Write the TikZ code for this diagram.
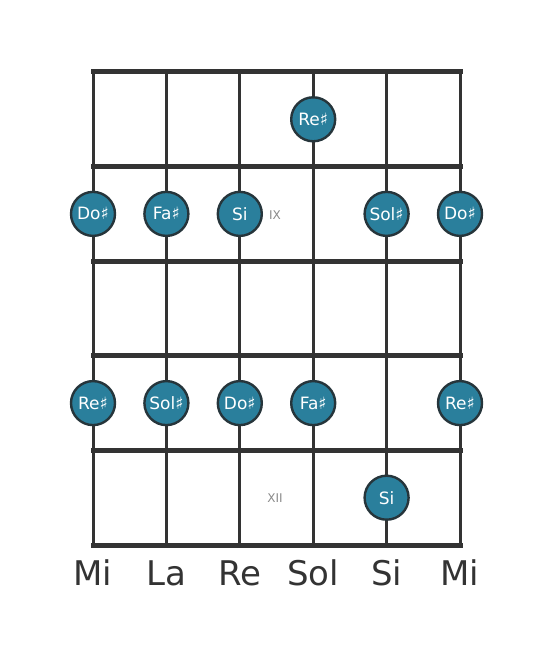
\documentclass[tikz,border=0pt]{standalone}
\usepackage{fontspec}
\setmainfont{DejaVu Sans}
\usetikzlibrary{positioning}

\definecolor{notefill}{HTML}{2A7F9C}
\definecolor{noteline}{HTML}{26353B}
\definecolor{boardline}{HTML}{333333}
\definecolor{fretgray}{HTML}{8A8A8A}

\begin{document}
\begin{tikzpicture}[x=0.5pt,y=-0.5pt]
    \useasboundingbox (0,0) rectangle (553,656);
    % Left string x
    \newcommand{\xstart}{93}
    % Top fret y
    \newcommand{\ystart}{72}
    % String spacing
    \newcommand{\xdiff}{73.4}
    % Fret spacing
    \newcommand{\ydiff}{94.6}
    % Styles
    \tikzstyle{string}=[draw=boardline, line width=1.5pt]
    \tikzstyle{fret}=[draw=boardline, line width=2.5pt, line cap=rect]
    \tikzstyle{note}=[circle, draw=noteline, line width=1.2pt, fill=notefill,
      minimum size=22pt, inner sep=0, text=white, font=\fontsize{8.5}{8.5}\selectfont]
    \tikzstyle{fretnum}=[text=fretgray, font=\fontsize{6}{6}\selectfont]
    \tikzstyle{stringname}=[text=boardline, font=\fontsize{17}{17}\selectfont]

    % Strings
    \foreach \i in {1,...,6}
      {
        \coordinate (Top-\i) at (\xstart+\i*\xdiff-\xdiff, \ystart);
        \coordinate (Bottom-\i) at (\xstart+\i*\xdiff-\xdiff, \ystart+5*\ydiff);
        \draw[string] (Top-\i) -- (Bottom-\i);
      }
    % Frets
    \foreach \j in {0,...,5}
      {
        \coordinate (Fret-\j-left) at (\xstart, \ystart+\j*\ydiff);
        \coordinate (Fret-\j-right) at (\xstart+5*\xdiff, \ystart+\j*\ydiff);
        \draw[fret] (Fret-\j-left) -- (Fret-\j-right);
      }

    % Notes
    \foreach \s/\f/\name in {4/1/Re♯,
        1/2/Do♯, 2/2/Fa♯, 3/2/Si, 5/2/Sol♯, 6/2/Do♯,
        1/4/Re♯, 2/4/Sol♯, 3/4/Do♯, 4/4/Fa♯, 6/4/Re♯,
        5/5/Si}
      {
        \node[note] (Note-\s-\f) at (\xstart+\s*\xdiff-\xdiff, \ystart+\f*\ydiff-\ydiff/2) {\name};
      }

    % Fret numbers
    \node[fretnum] (Label-IX) at (275, 215) {IX};
    \node[fretnum] (Label-XII) at (275, 498) {XII};

    % String names
    \foreach \i/\name in {1/Mi, 2/La, 3/Re, 4/Sol, 5/Si, 6/Mi}
      {
        \node[stringname] (Name-\i) at (\xstart+\i*\xdiff-\xdiff, 573) {\name};
      }
  \end{tikzpicture}
\end{document}
